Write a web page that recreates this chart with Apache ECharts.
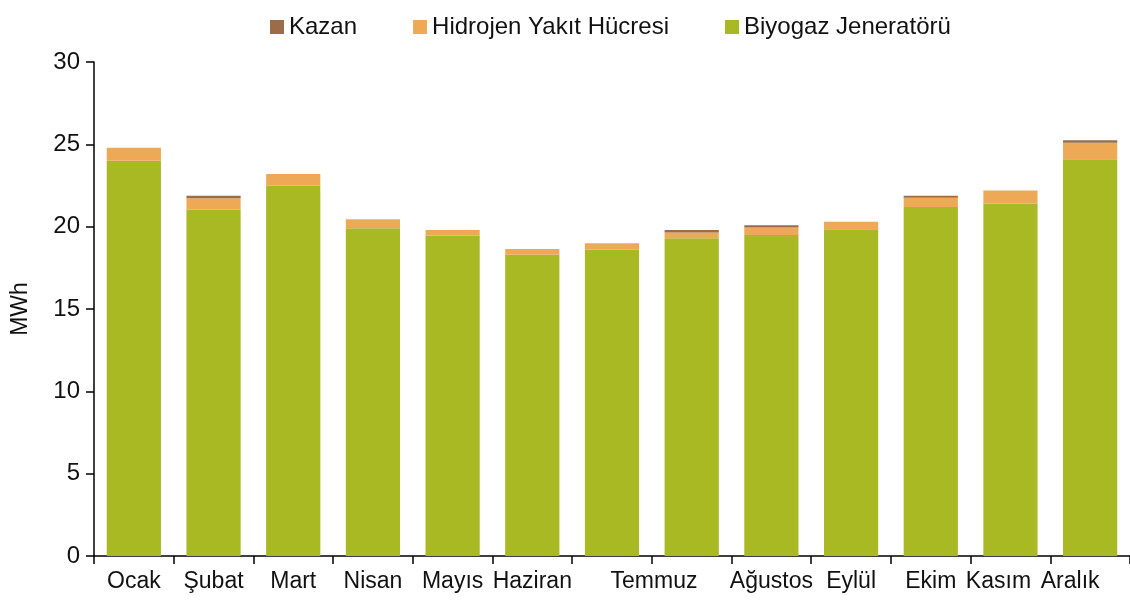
<!doctype html>
<html lang="tr">
<head>
    <meta charset="UTF-8">
    <title>Aylık enerji üretimi</title>
    <script src="https://cdn.jsdelivr.net/npm/echarts@6/dist/echarts.min.js"></script>
    <style>
        html, body { margin: 0; padding: 0; background: #fff; }
        #chart { width: 1130px; height: 604px; }
    </style>
</head>
<body>
<div id="chart"></div>
<script type="text/javascript">
/* 데이터 */
// 13 bars in the source, 12 month labels (7th slot has no label)
let categories = ['Ocak', 'Şubat', 'Mart', 'Nisan', 'Mayıs', 'Haziran', 'Temmuz', '', 'Ağustos', 'Eylül', 'Ekim', 'Kasım', 'Aralık'];
let biyogaz  = [24.0, 21.05, 22.5, 19.9, 19.45, 18.3, 18.6, 19.3, 19.5, 19.85, 21.2, 21.4, 24.1];
let hidrojen = [0.8, 0.68, 0.7, 0.55, 0.35, 0.35, 0.4, 0.35, 0.45, 0.45, 0.55, 0.8, 1.0];
let kazan    = [0, 0.15, 0, 0, 0, 0, 0, 0.15, 0.13, 0, 0.13, 0, 0.15];
let yTicks = [0, 5, 10, 15, 20, 25, 30];

let font = "'Liberation Sans', Arial, sans-serif";

/* 라벨 위치 보정 (원본 이미지 기준) */
let labelShift = { 'Temmuz': 'r', 'Kasım': 'l', 'Aralık': 'll' };

let chart = echarts.init(document.getElementById('chart'));

let option = {
    animation: false,
    backgroundColor: '#ffffff',
    legend: {
        data: ['Kazan', 'Hidrojen Yakıt Hücresi', 'Biyogaz Jeneratörü'],
        left: 265,
        top: 10,
        itemWidth: 14,
        itemHeight: 14,
        itemGap: 56,
        icon: 'rect',
        textStyle: { fontFamily: font, fontSize: 24, color: '#111' }
    },
    grid: { left: 94, top: 62, width: 1036, height: 494, containLabel: false },
    xAxis: {
        type: 'category',
        data: categories,
        axisLine: { lineStyle: { color: '#000', width: 1.5 } },
        axisTick: { show: true, alignWithLabel: false, length: 8, lineStyle: { color: '#000', width: 1.5 } },
        axisLabel: {
            interval: 0,
            margin: 14,
            fontFamily: font,
            fontSize: 23,
            color: '#111',
            formatter: function (v) {
                let s = labelShift[v];
                return s ? '{' + s + '|' + v + '}' : v;
            },
            rich: {
                r:  { fontFamily: font, fontSize: 23, color: '#111', padding: [0, 0, 0, 84] },
                l:  { fontFamily: font, fontSize: 23, color: '#111', padding: [0, 24, 0, 0] },
                ll: { fontFamily: font, fontSize: 23, color: '#111', padding: [0, 40, 0, 0] }
            }
        }
    },
    yAxis: {
        type: 'value',
        min: yTicks[0],
        max: yTicks[yTicks.length - 1],
        interval: 5,
        name: 'MWh',
        nameLocation: 'middle',
        nameGap: 62,
        nameTextStyle: { fontFamily: font, fontSize: 23, color: '#111' },
        axisLine: { show: true, lineStyle: { color: '#000', width: 1.5 } },
        axisTick: { show: true, length: 8, lineStyle: { color: '#000', width: 1.5 } },
        splitLine: { show: false },
        axisLabel: { margin: 14, fontFamily: font, fontSize: 24, color: '#111' }
    },
    series: [
        {
            name: 'Biyogaz Jeneratörü',
            type: 'bar',
            stack: 'total',
            barCategoryGap: '32%',
            itemStyle: { color: '#a8b924' },
            data: biyogaz
        }, {
            name: 'Hidrojen Yakıt Hücresi',
            type: 'bar',
            stack: 'total',
            itemStyle: { color: '#eea957' },
            data: hidrojen
        }, {
            name: 'Kazan',
            type: 'bar',
            stack: 'total',
            itemStyle: { color: '#9c6b48' },
            data: kazan
        }
    ]
};
chart.setOption(option);
</script>
</body>
</html>
